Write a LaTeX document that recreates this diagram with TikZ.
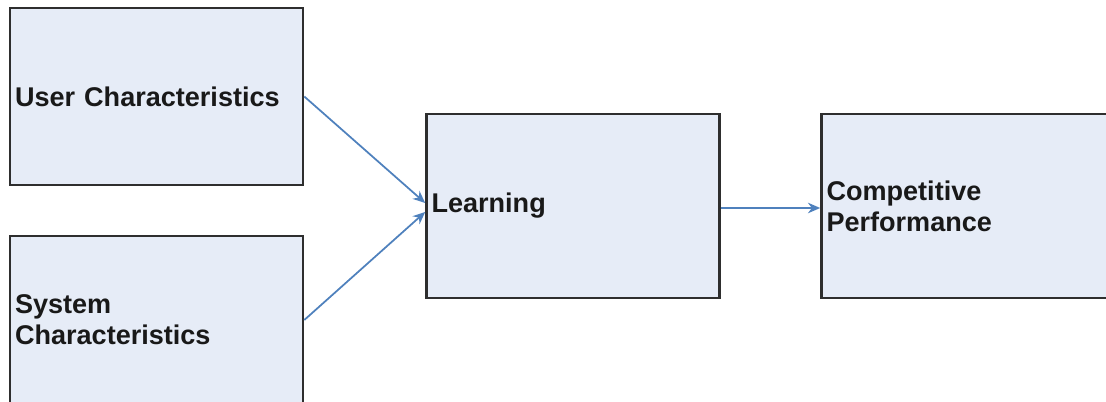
\documentclass[tikz,border=0pt]{standalone}
\usepackage{fontspec}
\setmainfont{Liberation Sans}
\usetikzlibrary{arrows.meta, positioning}
\definecolor{boxfill}{HTML}{E6ECF7}
\definecolor{boxline}{HTML}{2E2E2E}
\definecolor{linkcol}{HTML}{4F81BD}

\begin{document}
\begin{tikzpicture}[
  x=0.02cm, y=-0.02cm,
  factorbox/.style={draw=boxline, line width=1.5pt, fill=boxfill, minimum width=5.86cm,
    inner xsep=0.1cm, text width=5.66cm, align=left, text=black!90,
    font=\fontsize{15.4}{17.6}\selectfont\bfseries},
  arrow/.style={-{Stealth[length=7pt, width=6pt]}, draw=linkcol, line width=1pt}
]
\useasboundingbox (0,0) rectangle (1106,402);

\node[factorbox, minimum height=3.54cm] (user) at (156.5,96.5) {User Characteristics};
\node[factorbox, minimum height=3.36cm] (system) at (156.5,320) {System\\Characteristics};
\node[factorbox, minimum height=3.68cm, minimum width=5.84cm] (learn) at (573,206) {Learning};
\node[factorbox, minimum height=3.68cm, minimum width=5.84cm] (perf) at (968,206) {Competitive\\Performance};

\draw[arrow] (user.east) -- ([yshift=0.06cm]learn.west);
\draw[arrow] (system.east) -- ([yshift=-0.12cm]learn.west);
\draw[arrow] ([yshift=-0.04cm]learn.east) -- ([yshift=-0.04cm]perf.west);
\end{tikzpicture}
\end{document}
